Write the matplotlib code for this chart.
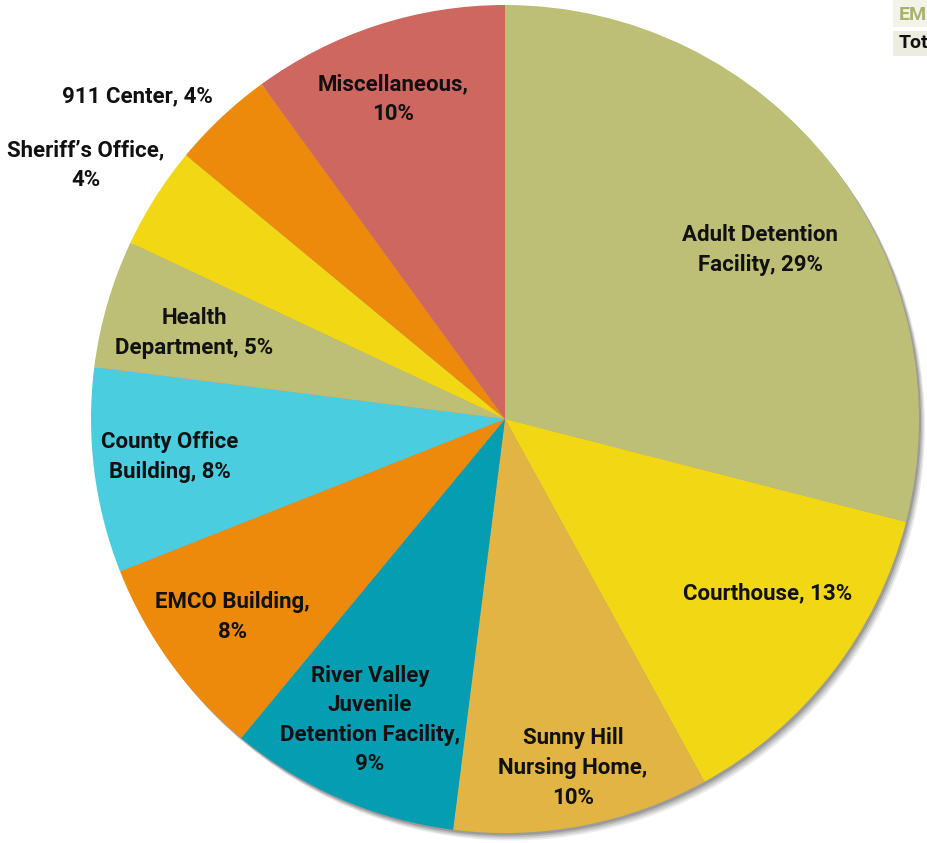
import matplotlib
matplotlib.use("Agg")
import matplotlib.pyplot as plt
import matplotlib.patches as mpatches

plt.rcParams["font.family"] = ["Roboto", "DejaVu Sans"]

# facility share of energy use (%)
categories = ["Adult Detention\nFacility", "Courthouse", "Sunny Hill\nNursing Home,",
              "River Valley\nJuvenile\nDetention Facility,", "EMCO Building,",
              "County Office\nBuilding", "Health\nDepartment", "Sheriff\u2019s Office,",
              "911 Center", "Miscellaneous,"]
shares = [29, 13, 10, 9, 8, 8, 5, 4, 4, 10]
colors = ["#BDBF76", "#F2D714", "#E1B443", "#049DB2", "#EE8A0B",
          "#4BCDE0", "#BDBF76", "#F2D714", "#EE8A0B", "#CD6760"]

# label centres, in units of pie radius
label_pos = [(0.616, 0.408), (0.635, -0.420), (0.164, -0.843), (-0.326, -0.727),
             (-0.659, -0.478), (-0.809, -0.092), (-0.751, 0.208), (-1.012, 0.614),
             (-0.889, 0.780), (-0.271, 0.773)]


def label_text(name, pct):
    if name.endswith(","):
        return f"{name}\n{pct}%"
    return f"{name}, {pct}%"


W, H = 928, 843
CX, CY, R = 505, 419, 414

fig = plt.figure(figsize=(W / 100, H / 100), dpi=100)
ax = fig.add_axes([0, 0, 1, 1])

# soft drop shadow to the lower right
for i, a in enumerate([0.08, 0.10, 0.12, 0.16]):
    off = 0.018 - i * 0.004
    ax.add_patch(mpatches.Circle((off * 0.8, -off), 1.0, color="black", alpha=a, lw=0, zorder=0))

ax.pie(shares, colors=colors, startangle=90, counterclock=False, radius=1.0,
       wedgeprops=dict(linewidth=0, zorder=1))

for name, pct, (x, y) in zip(categories, shares, label_pos):
    ax.text(x, y, label_text(name, pct), ha="center", va="center",
            fontsize=16, fontweight="bold", linespacing=1.45, color="#111111", zorder=3)

ax.set_xlim(-CX / R, (W - CX) / R)
ax.set_ylim(-(H - CY) / R, CY / R)
ax.set_aspect("equal")
ax.axis("off")

# fragment of a neighbouring table in the corner
fig.add_artist(mpatches.Rectangle((893 / W, 1 - 27 / H), 40 / W, 27 / H,
                                  transform=fig.transFigure, color="#F3F3E9", lw=0))
fig.add_artist(mpatches.Rectangle((893 / W, 1 - 56 / H), 40 / W, 25 / H,
                                  transform=fig.transFigure, color="#ECECE0", lw=0))
fig.text(899 / W, 1 - 15 / H, "EMCO", color="#A9B267", fontsize=14, fontweight="bold", va="center")
fig.text(899 / W, 1 - 43 / H, "Total", color="#111111", fontsize=14, fontweight="bold", va="center")

fig.savefig("out.png", dpi=100)
